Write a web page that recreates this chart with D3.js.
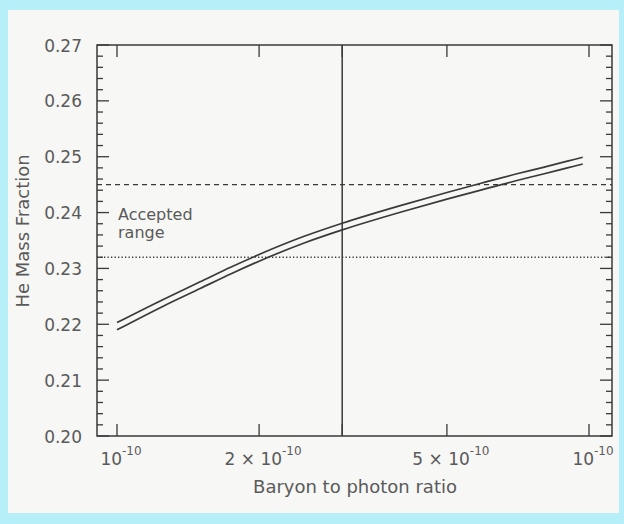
<!DOCTYPE html>
<html>
<head>
<meta charset="utf-8">
<script src="https://cdn.jsdelivr.net/npm/d3@7"></script>
<style>
  html, body { margin: 0; padding: 0; background: #b6eff7; }
  svg { display: block; }
  text { font-family: "DejaVu Sans", sans-serif; fill: #5a5a5a; }
</style>
</head>
<body>
<div id="chart"></div>
<script>
// Data (eta in units of 1e-10)
var etaValues   = [1.0, 1.25, 1.5, 1.75, 2.0, 2.5, 3.0, 4.0, 5.0, 6.0, 7.0, 8.0, 9.0, 9.7];
var upperCurve  = [0.2203, 0.2244, 0.2276, 0.2303, 0.2325, 0.2358, 0.2381, 0.2413, 0.2436, 0.2454, 0.2469, 0.2481, 0.2492, 0.2499];
var lowerCurve  = [0.2190, 0.2232, 0.2264, 0.2291, 0.2313, 0.2346, 0.2369, 0.2401, 0.2424, 0.2442, 0.2457, 0.2469, 0.2480, 0.2487];
var xTickValues = [1, 2, 3, 5, 10];
var xTickLabels = [["10", "-10"], ["2 \u00d7 10", "-10"], null, ["5 \u00d7 10", "-10"], ["10", "-10"]];
var yTickValues = [0.20, 0.21, 0.22, 0.23, 0.24, 0.25, 0.26, 0.27];
var upperLimit = 0.245;   // dashed
var lowerLimit = 0.232;   // dotted
var chosenEta = 3;        // vertical line

var width = 624, height = 524;
var plot = {left: 97, right: 612, top: 45, bottom: 436};

var svg = d3.select('#chart').append('svg')
  .attr('width', width)
  .attr('height', height);

// pale panel on the cyan page
svg.append('rect')
  .attr('x', 8).attr('y', 10)
  .attr('width', 611).attr('height', 503)
  .attr('fill', '#f7f7f5');

var x = d3.scaleLog()
  .domain([1, 10])
  .range([117, 589]);

var y = d3.scaleLinear()
  .domain([0.20, 0.27])
  .range([plot.bottom, plot.top]);

var ink = '#3a3a3a';
var g = svg.append('g');

// reference lines
g.append('line')
  .attr('x1', plot.left).attr('x2', plot.right)
  .attr('y1', y(upperLimit)).attr('y2', y(upperLimit))
  .attr('stroke', ink).attr('stroke-width', 1.3)
  .attr('stroke-dasharray', '5,4');

g.append('line')
  .attr('x1', plot.left).attr('x2', plot.right)
  .attr('y1', y(lowerLimit)).attr('y2', y(lowerLimit))
  .attr('stroke', ink).attr('stroke-width', 1.4)
  .attr('stroke-dasharray', '1.3,2.2');

g.append('line')
  .attr('x1', x(chosenEta)).attr('x2', x(chosenEta))
  .attr('y1', plot.top).attr('y2', plot.bottom)
  .attr('stroke', ink).attr('stroke-width', 1.5);

// the two curves
var line = d3.line()
  .x(function (d) { return x(d[0]); })
  .y(function (d) { return y(d[1]); })
  .curve(d3.curveMonotoneX);

[upperCurve, lowerCurve].forEach(function (series) {
  g.append('path')
    .datum(d3.zip(etaValues, series))
    .attr('d', line)
    .attr('fill', 'none')
    .attr('stroke', ink)
    .attr('stroke-width', 1.7);
});

// frame
g.append('rect')
  .attr('x', plot.left).attr('y', plot.top)
  .attr('width', plot.right - plot.left)
  .attr('height', plot.bottom - plot.top)
  .attr('fill', 'none')
  .attr('stroke', ink)
  .attr('stroke-width', 1.5);

// ticks: major every 0.01, minor every 0.002, on both sides, pointing inward
var yMinor = d3.range(0, 36).map(function (i) { return 0.20 + i * 0.002; });
yMinor.forEach(function (v, i) {
  var len = (i % 5 === 0) ? 12 : 6;
  g.append('line')
    .attr('x1', plot.left).attr('x2', plot.left + len)
    .attr('y1', y(v)).attr('y2', y(v))
    .attr('stroke', ink).attr('stroke-width', 1.3);
  g.append('line')
    .attr('x1', plot.right).attr('x2', plot.right - len)
    .attr('y1', y(v)).attr('y2', y(v))
    .attr('stroke', ink).attr('stroke-width', 1.3);
});

xTickValues.forEach(function (v) {
  g.append('line')
    .attr('x1', x(v)).attr('x2', x(v))
    .attr('y1', plot.bottom).attr('y2', plot.bottom - 12)
    .attr('stroke', ink).attr('stroke-width', 1.3);
  g.append('line')
    .attr('x1', x(v)).attr('x2', x(v))
    .attr('y1', plot.top).attr('y2', plot.top + 12)
    .attr('stroke', ink).attr('stroke-width', 1.3);
});

// y tick labels
svg.selectAll('.ylab')
  .data(yTickValues)
  .enter().append('text')
  .attr('class', 'ylab')
  .attr('x', 82)
  .attr('y', function (d) { return y(d) + 6.5; })
  .attr('text-anchor', 'end')
  .style('font-size', '17px')
  .text(function (d) { return d.toFixed(2); });

// x tick labels with superscript exponent
xTickValues.forEach(function (v, i) {
  var lab = xTickLabels[i];
  if (!lab) return;
  var t = svg.append('text')
    .attr('x', x(v) + 4)
    .attr('y', 465)
    .attr('text-anchor', 'middle')
    .style('font-size', '17px');
  t.append('tspan').text(lab[0]);
  t.append('tspan')
    .attr('dy', -10)
    .style('font-size', '12px')
    .text(lab[1]);
});

// axis titles
svg.append('text')
  .attr('x', 355)
  .attr('y', 493)
  .attr('text-anchor', 'middle')
  .style('font-size', '18px')
  .text('Baryon to photon ratio');

svg.append('text')
  .attr('transform', 'translate(29,231) rotate(-90)')
  .attr('text-anchor', 'middle')
  .style('font-size', '18px')
  .text('He Mass Fraction');

// annotation
svg.append('text')
  .attr('x', 118).attr('y', 220)
  .style('font-size', '16px')
  .text('Accepted');
svg.append('text')
  .attr('x', 118).attr('y', 238)
  .style('font-size', '16px')
  .text('range');
</script>
</body>
</html>
